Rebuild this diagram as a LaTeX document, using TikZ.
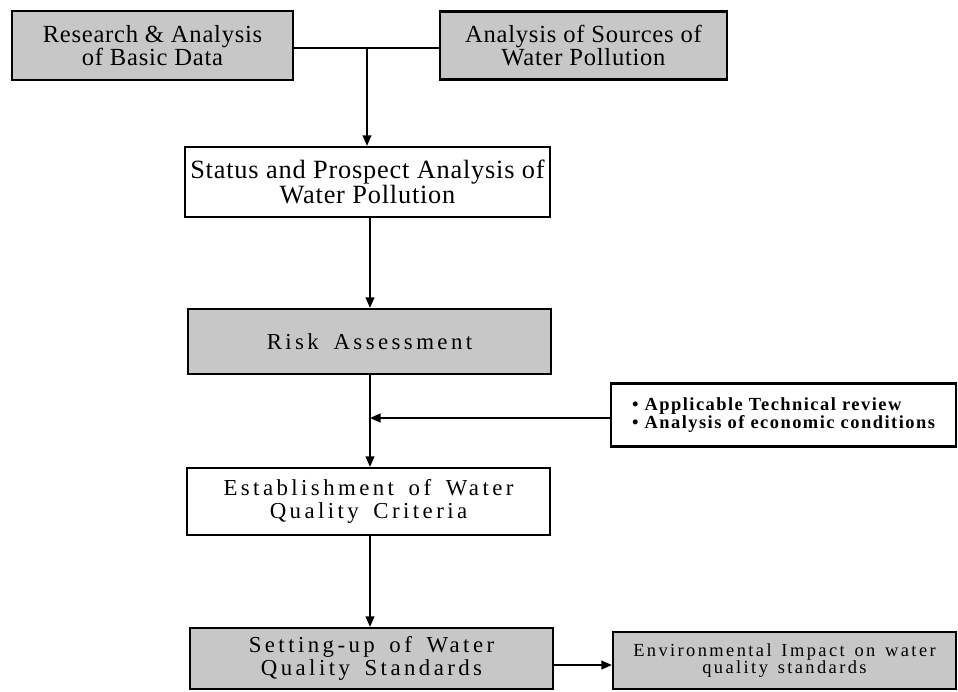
\documentclass[tikz,border=0pt]{standalone}
\usepackage{fontspec}
\setmainfont{Liberation Serif}
\newfontfamily\plainfont[LetterSpace=3]{Liberation Serif}
\newfontfamily\widefont[LetterSpace=15,WordSpace=1.6]{Liberation Serif}
\newfontfamily\smallfont[LetterSpace=13,WordSpace=1.4]{Liberation Serif}
\newfontfamily\notefont[LetterSpace=8]{Liberation Serif}
\usetikzlibrary{arrows.meta}
\tikzset{
    box/.style={draw, line width=1.3pt, align=center, inner sep=0pt},
    whitebox/.style={box, fill=white},
    shadebox/.style={box, fill=black!22},
    flow/.style={line width=1pt, -{Triangle[length=6pt,width=5pt]}},
    link/.style={line width=1pt}
}
\begin{document}
\begin{tikzpicture}[x=0.02cm, y=-0.02cm]
    % Khung hình (958 x 691 điểm ảnh)
    \useasboundingbox (0,0) rectangle (958,691);

    % Hai ô dữ liệu đầu vào ở trên cùng
    \node[shadebox, minimum width=5.62cm, minimum height=1.38cm,
          font=\plainfont\fontsize{14}{13}\selectfont]
        (research) at (152.5,45.5) {Research \& Analysis\\of Basic Data};
    \node[shadebox, minimum width=5.74cm, minimum height=1.36cm,
          font=\plainfont\fontsize{14}{13}\selectfont]
        (sources) at (583.5,45.5) {Analysis of Sources of\\Water Pollution};

    % Các bước chính, xếp theo cột x = 368
    \node[whitebox, minimum width=7.30cm, minimum height=1.40cm,
          font=\plainfont\fontsize{15}{13}\selectfont]
        (status) at (367.5,182) {Status and Prospect Analysis of\\Water Pollution};
    \node[shadebox, minimum width=7.26cm, minimum height=1.30cm,
          font=\widefont\fontsize{13}{13}\selectfont]
        (risk) at (369.5,341.5) {Risk Assessment};
    \node[whitebox, minimum width=7.26cm, minimum height=1.34cm,
          font=\widefont\fontsize{13}{13}\selectfont]
        (criteria) at (368.5,501.5) {Establishment of Water\\Quality Criteria};
    \node[shadebox, minimum width=7.26cm, minimum height=1.22cm,
          font=\widefont\fontsize{13}{13}\selectfont]
        (standards) at (371.5,658.5) {Setting-up of Water\\Quality Standards};

    % Các ô phụ bên phải
    \node[whitebox, minimum width=6.90cm, minimum height=1.26cm, align=left,
          font=\notefont\bfseries\fontsize{10.5}{10}\selectfont]
        (review) at (783.5,415) {• Applicable Technical review\\• Analysis of economic conditions};
    \node[shadebox, minimum width=6.86cm, minimum height=1.14cm,
          font=\smallfont\fontsize{10.5}{10}\selectfont]
        (impact) at (784.5,660.5) {Environmental Impact on water\\quality standards};

    % Nối hai ô đầu vào rồi dẫn xuống
    \coordinate (join) at (367,48);
    \draw[link] (research.east |- join) -- (sources.west |- join);
    \draw[flow] (join) -- (status.north -| join);

    % Mũi tên dọc theo các bước
    \draw[flow] (status.south -| 370,0) -- (risk.north -| 370,0);
    \draw[flow] (risk.south -| 370,0) -- (criteria.north -| 370,0);
    \draw[flow] (criteria.south -| 370,0) -- (standards.north -| 370,0);

    % Mũi tên từ các ô phụ
    \draw[flow] (review.west |- 0,418) -- (370,418);
    \draw[flow] (standards.east |- 0,665) -- (impact.west |- 0,665);
\end{tikzpicture}
\end{document}
